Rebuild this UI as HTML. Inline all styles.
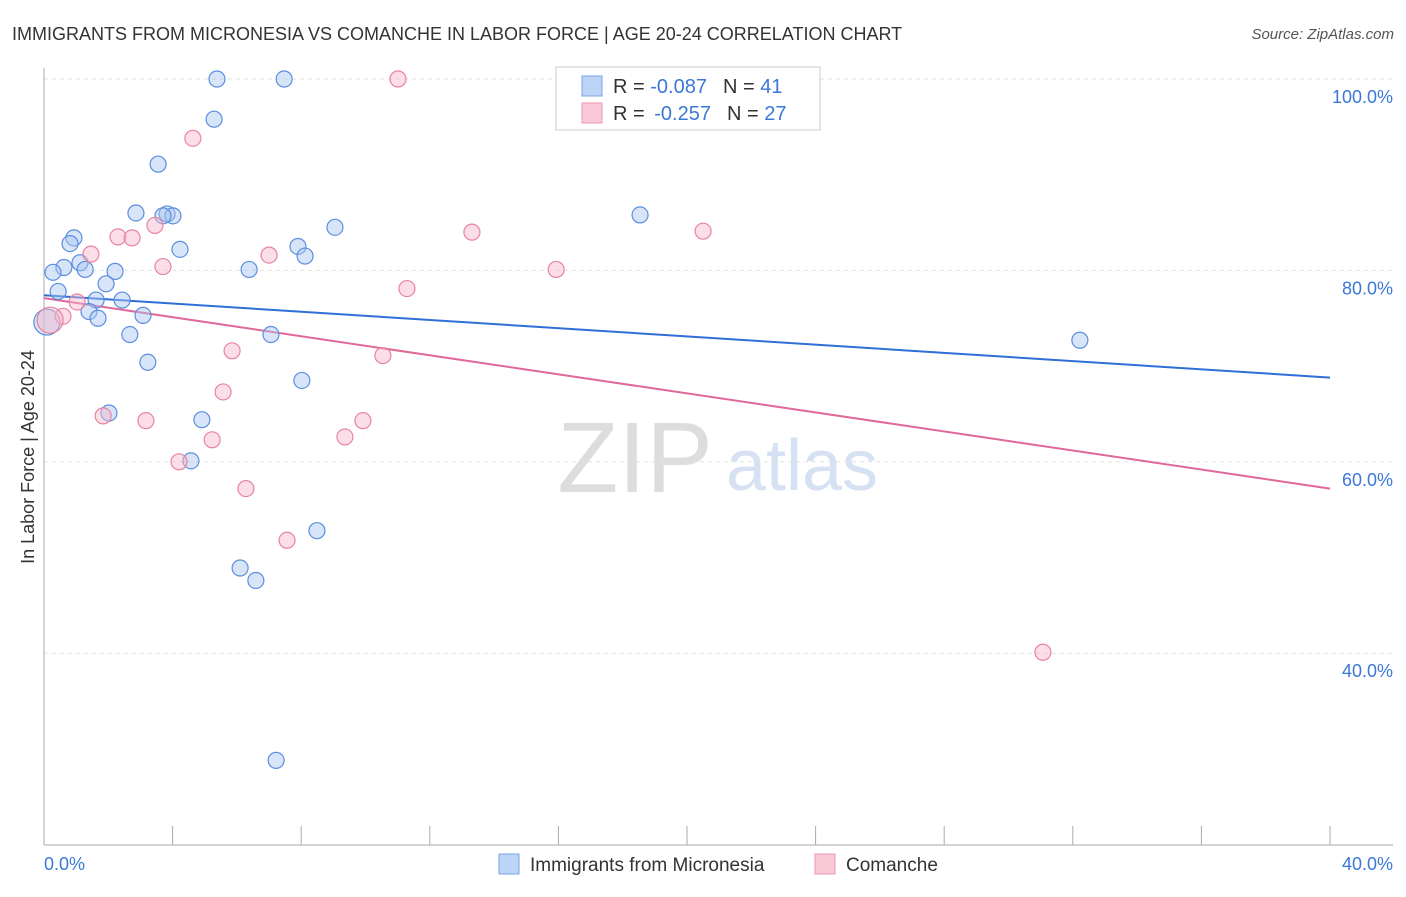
<!DOCTYPE html>
<html><head><meta charset="utf-8"><style>
body{margin:0;background:#fff;font-family:"Liberation Sans",sans-serif}
svg text{font-family:"Liberation Sans",sans-serif}
</style></head><body>
<svg id="c" width="1406" height="892" xmlns="http://www.w3.org/2000/svg">
<text x="12" y="40" font-size="18" fill="#333">IMMIGRANTS FROM MICRONESIA VS COMANCHE IN LABOR FORCE | AGE 20-24 CORRELATION CHART</text>
<text x="1394" y="39" font-size="15" fill="#555" text-anchor="end" font-style="italic">Source: ZipAtlas.com</text>
<g><text x="635" y="492" font-size="100" fill="#ddd" text-anchor="middle" font-family="Liberation Serif">ZIP</text><text x="802" y="490" font-size="72" fill="#d6e2f3" text-anchor="middle">atlas</text></g>
<g id="grid"></g><g id="axes"></g><g id="trend"></g><g id="pts"></g>
<text transform="translate(34,457) rotate(-90)" font-size="18" fill="#333" text-anchor="middle">In Labor Force | Age 20-24</text>
<text x="44" y="870" font-size="18" fill="#3b78d8">0.0%</text>
<text x="1393" y="870" font-size="18" fill="#3b78d8" text-anchor="end">40.0%</text>
<g>
<rect x="556" y="67" width="264" height="63" fill="#fff" stroke="#ccc"/>
<rect x="582" y="76" width="20" height="20" fill="#bcd4f5" stroke="#7aa6e6"/>
<rect x="582" y="103" width="20" height="20" fill="#f9c9d7" stroke="#ee97b1"/>
<text x="613" y="93" font-size="20" fill="#333">R = <tspan fill="#3b78d8">-0.087</tspan><tspan dx="16">N = </tspan><tspan fill="#3b78d8">41</tspan></text>
<text x="613" y="120" font-size="20" fill="#333">R = <tspan fill="#3b78d8" dx="4">-0.257</tspan><tspan dx="16">N = </tspan><tspan fill="#3b78d8">27</tspan></text>
</g>
<g>
<rect x="499" y="854" width="20" height="20" fill="#bcd4f5" stroke="#7aa6e6"/>
<text x="530" y="871" font-size="19" fill="#333">Immigrants from Micronesia</text>
<rect x="815" y="854" width="20" height="20" fill="#f9c9d7" stroke="#ee97b1"/>
<text x="846" y="871" font-size="19" fill="#333">Comanche</text>
</g>
</svg>
<script>
const yTicks=[100,80,60,40];
const yTickLabels=["100.0%","80.0%","60.0%","40.0%"];
const blueX=[5.38,7.47,5.29,3.55,2.86,3.83,4.01,3.70,18.54,9.05,0.93,0.81,4.23,7.90,8.12,0.62,0.28,1.12,1.28,2.21,6.38,1.93,0.44,1.62,2.43,1.40,1.68,3.08,2.67,7.06,3.23,8.02,2.02,4.91,4.57,8.49,6.10,6.59,7.22,32.22,0.09];
const blueY=[100,100,95.8,91.1,86.0,85.9,85.7,85.7,85.8,84.5,83.4,82.8,82.2,82.5,81.5,80.3,79.8,80.8,80.1,79.9,80.1,78.6,77.8,76.9,76.9,75.7,75.0,75.3,73.3,73.3,70.4,68.5,65.1,64.4,60.1,52.8,48.9,47.6,28.8,72.7,74.6];
const pinkX=[11.01,4.63,3.45,2.30,2.74,1.46,7.00,13.31,20.50,3.70,15.93,11.29,1.03,0.59,0.19,5.85,10.54,5.57,1.84,3.17,9.92,9.36,5.23,4.20,6.28,7.56,31.07];
const pinkY=[100,93.8,84.7,83.5,83.4,81.7,81.6,84.0,84.1,80.4,80.1,78.1,76.7,75.2,74.8,71.6,71.1,67.3,64.8,64.3,64.3,62.6,62.3,60.0,57.2,51.8,40.1];
const blueTrend=[77.4,68.8];
const pinkTrend=[77.1,57.2];
const trendX=[0,40];
const NS="http://www.w3.org/2000/svg";
const sx=v=>44+v*32.15, sy=v=>79+(100-v)*9.57;
function mk(t,a,p){const e=document.createElementNS(NS,t);for(const k in a)e.setAttribute(k,a[k]);p.appendChild(e);return e;}
const grid=document.getElementById('grid'),axes=document.getElementById('axes'),tr=document.getElementById('trend'),pts=document.getElementById('pts');
yTicks.forEach((v,i)=>{
 const l=mk('line',{x1:44,x2:1393,y1:sy(v),y2:sy(v),stroke:'#e2e2e2','stroke-dasharray':'4,4'},grid);
 
 
 const t=mk('text',{x:1393,y:sy(v)+24,'font-size':18,fill:'#3b78d8','text-anchor':'end'},grid);
 t.textContent=yTickLabels[i];
 
 
});
let a=mk('line',{x1:44,x2:44,y1:68,y2:845,stroke:'#aaa'},axes);


a=mk('line',{x1:44,x2:1393,y1:845,y2:845,stroke:'#aaa'},axes);


for(let i=1;i<=10;i++){const t=mk('line',{x1:sx(i*4),x2:sx(i*4),y1:826,y2:845,stroke:'#aaa'},axes);
 
 }
function dots(X,Y,fill,stroke,name){X.forEach((x,i)=>{const big=x<0.2;
 const c=mk('circle',{cx:sx(x),cy:sy(Y[i]),r:big?13:8,fill:fill,'fill-opacity':0.45,stroke:stroke,'stroke-width':1.2},pts);
 
 });}
dots(blueX,blueY,'#a9c6f0','#5b8ee0','micronesia-point');
dots(pinkX,pinkY,'#f6b6c9','#e8849f','comanche-point');
let l=mk('line',{x1:sx(trendX[0]),y1:sy(blueTrend[0]),x2:sx(trendX[1]),y2:sy(blueTrend[1]),stroke:'#2f6fd6','stroke-width':2},tr);


l=mk('line',{x1:sx(trendX[0]),y1:sy(pinkTrend[0]),x2:sx(trendX[1]),y2:sy(pinkTrend[1]),stroke:'#e0689a','stroke-width':2},tr);


</script>
</body></html>
